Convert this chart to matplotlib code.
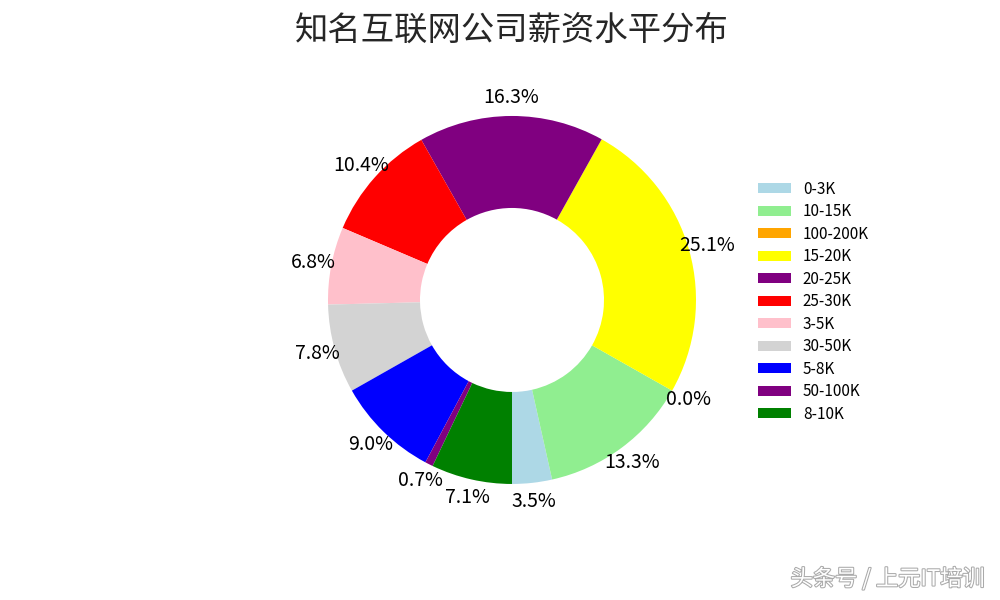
import matplotlib
matplotlib.use('Agg')
import matplotlib.pyplot as plt
import matplotlib.patheffects as pe

plt.rcParams['font.family'] = ['Noto Sans CJK SC', 'DejaVu Sans']

# 薪资区间及占比
labels = ['0-3K', '10-15K', '100-200K', '15-20K', '20-25K', '25-30K',
          '3-5K', '30-50K', '5-8K', '50-100K', '8-10K']
values = [3.5, 13.3, 0.0, 25.1, 16.3, 10.4, 6.8, 7.8, 9.0, 0.7, 7.1]
colors = ['lightblue', 'lightgreen', 'orange', 'yellow', 'purple', 'red',
          'pink', 'lightgray', 'blue', 'purple', 'green']

fig = plt.figure(figsize=(10, 6), dpi=100)
ax = fig.add_axes([0.282, 0.1167, 0.46, 0.7667])

wedges, texts, autotexts = ax.pie(values, colors=colors, startangle=270,
                                  autopct='%.1f%%', pctdistance=1.1,
                                  wedgeprops=dict(width=0.5),
                                  textprops=dict(fontsize=14))

fig.suptitle('知名互联网公司薪资水平分布', fontsize=24, color='#262626',
             x=0.512, y=0.978)

fig.legend(wedges, labels, loc='upper left', bbox_to_anchor=(0.744, 0.722),
           frameon=False, fontsize=11, handlelength=2.2, handleheight=0.65,
           handletextpad=0.75, labelspacing=0.36)

# 水印
fig.text(0.985, 0.035, '头条号 / 上元IT培训', ha='right', va='center',
         fontsize=16, color='white',
         path_effects=[pe.withStroke(linewidth=1.5, foreground='#aaaaaa')])

fig.savefig('out.png', dpi=100)
